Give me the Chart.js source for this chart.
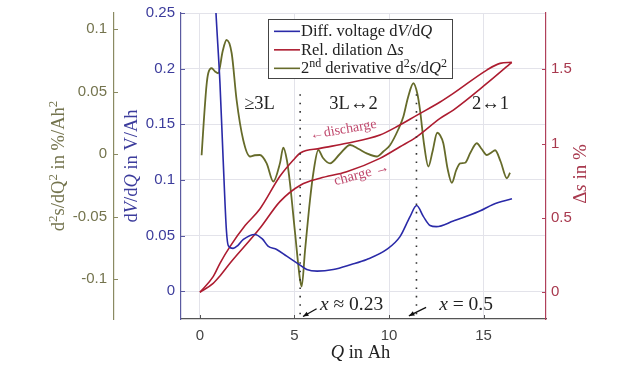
<!DOCTYPE html>
<html>
<head>
<meta charset="utf-8">
<script src="https://cdn.jsdelivr.net/npm/chart.js@4.4.1/dist/chart.umd.min.js"></script>
<style>
  body { margin: 0; background: #fff; }
  #wrap { width: 633px; height: 373px; }
</style>
</head>
<body>
<div id="wrap"><canvas id="chart"></canvas></div>
<script>
// Diff. voltage dV/dQ (V/Ah)
const qVolt = [0.6, 0.85, 1.06, 1.23, 1.4, 1.5, 1.75, 2.0, 2.3, 2.9, 3.3, 3.6, 4.06, 4.59, 5.12, 5.65, 6.2, 7.05, 8.0, 8.82, 9.88, 10.58, 11.11, 11.46, 11.82, 12.17, 12.5, 13.4, 14.8, 15.5, 16.5];
const dVdQ = [0.34, 0.25, 0.187, 0.118, 0.055, 0.041, 0.0385, 0.041, 0.0465, 0.051, 0.047, 0.0405, 0.0375, 0.0315, 0.0255, 0.0195, 0.018, 0.0195, 0.024, 0.0285, 0.0375, 0.049, 0.067, 0.077, 0.067, 0.059, 0.058, 0.063, 0.072, 0.078, 0.083];

// Rel. dilation, discharge branch (upper) and charge branch (lower), in %
const qDis = [0, 0.7, 1.06, 1.59, 2.4, 3.17, 4.23, 4.94, 5.33, 6.35, 7.76, 9.52, 10.5, 11.46, 12.7, 13.4, 15.17, 15.87, 16.49];
const dsDis = [0, 0.105, 0.195, 0.307, 0.45, 0.56, 0.78, 0.89, 0.939, 0.968, 1.002, 1.058, 1.12, 1.19, 1.28, 1.338, 1.495, 1.54, 1.547];
const qCha = [0, 0.7, 1.06, 1.59, 3.17, 4.23, 5.33, 6.35, 7.76, 9.52, 10.58, 11.46, 12.7, 13.4, 15.17, 16.49];
const dsCha = [0, 0.06, 0.11, 0.195, 0.43, 0.61, 0.722, 0.767, 0.811, 0.901, 0.979, 1.046, 1.17, 1.226, 1.405, 1.547];

// 2nd derivative d2s/dQ2 (%/Ah2)
const qDeriv = [0.09, 0.2, 0.35, 0.44, 0.62, 0.8, 0.97, 1.2, 1.41, 1.68, 1.94, 2.29, 2.65, 2.9, 3.17, 3.53, 3.88, 4.23, 4.41, 4.6, 4.76, 5.03, 5.29, 5.38, 5.56, 5.82, 6.0, 6.26, 6.5, 6.88, 7.4, 7.94, 8.4, 8.82, 9.35, 9.7, 10.05, 10.5, 10.76, 11.0, 11.29, 11.5, 11.64, 11.85, 12.08, 12.3, 12.55, 12.7, 12.87, 13.1, 13.32, 13.55, 13.76, 14.02, 14.3, 14.64, 14.9, 15.17, 15.4, 15.61, 15.9, 16.23, 16.4];
const d2s = [-0.001, 0.025, 0.055, 0.0646, 0.0686, 0.066, 0.0646, 0.082, 0.0912, 0.0806, 0.0432, 0.0112, -0.002, -0.001, -0.0008, -0.0075, -0.022, -0.0075, 0.005, -0.005, -0.023, -0.063, -0.1, -0.106, -0.077, -0.037, -0.015, 0.0032, -0.003, -0.0075, 0.0, 0.0072, 0.004, 0.0005, -0.002, 0.002, 0.007, 0.02, 0.03, 0.045, 0.0566, 0.048, 0.035, 0.008, -0.010, 0.002, 0.017, 0.015, 0.0086, -0.012, -0.023, -0.013, -0.0075, -0.007, 0.001, 0.0086, 0.004, -0.0008, 0.001, 0.003, -0.006, -0.0194, -0.015];

// tick labels
const xTicks = [0, 5, 10, 15];
const voltTicks = [0, 0.05, 0.1, 0.15, 0.2, 0.25];
const derivTicks = [-0.1, -0.05, 0, 0.05, 0.1];
const dilTicks = [0, 0.5, 1, 1.5];

// phase transitions (Q in Ah)
const phaseQ = [5.3, 11.45];

const BLUE = '#2a2aa8', BLUE_T = '#3c3c9c';
const RED = '#ad1c30', RED_T = '#a8394e';
const OLIVE = '#666b2a', OLIVE_T = '#74744e';
const SERIF = '"Liberation Serif", "DejaVu Serif", serif';
const SANS = '"Liberation Sans", Arial, sans-serif';

function toPoints(xs, ys) {
    return xs.map((x, i) => ({ x: x, y: ys[i] }));
}

function fmt(v) {
    return String(Math.round(v * 1000) / 1000);
}

// draws text made of pieces (italic / superscript) on one baseline
function drawRich(ctx, segs, x, y, size, align) {
    const fontFor = s => (s.i ? 'italic ' : '') + (s.sup ? Math.round(size * 0.7) : size) + 'px ' + SERIF;
    let total = 0;
    segs.forEach(s => {
        ctx.font = fontFor(s);
        s.w = ctx.measureText(s.t).width;
        total += s.w;
    });
    let cx = align === 'center' ? x - total / 2 : (align === 'right' ? x - total : x);
    ctx.textAlign = 'left';
    ctx.textBaseline = 'alphabetic';
    segs.forEach(s => {
        ctx.font = fontFor(s);
        ctx.fillText(s.t, cx, s.sup ? y - size * 0.4 : y);
        cx += s.w;
    });
}

function arrow(ctx, x1, y1, x2, y2) {
    const a = Math.atan2(y2 - y1, x2 - x1);
    ctx.beginPath();
    ctx.moveTo(x1, y1);
    ctx.lineTo(x2, y2);
    ctx.stroke();
    ctx.beginPath();
    ctx.moveTo(x2, y2);
    ctx.lineTo(x2 - 6 * Math.cos(a - 0.4), y2 - 6 * Math.sin(a - 0.4));
    ctx.lineTo(x2 - 6 * Math.cos(a + 0.4), y2 - 6 * Math.sin(a + 0.4));
    ctx.closePath();
    ctx.fill();
}

const legendItems = [
    { color: BLUE, segs: [{ t: 'Diff. voltage d' }, { t: 'V', i: 1 }, { t: '/d' }, { t: 'Q', i: 1 }] },
    { color: RED, segs: [{ t: 'Rel. dilation Δ' }, { t: 's', i: 1 }] },
    { color: OLIVE, segs: [{ t: '2' }, { t: 'nd', sup: 1 }, { t: ' derivative d' }, { t: '2', sup: 1 }, { t: 's', i: 1 }, { t: '/d' }, { t: 'Q', i: 1 }, { t: '2', sup: 1 }] }
];

// small inward tick marks, MATLAB style
function innerTicks(ctx, scale, values, color, dir) {
    ctx.strokeStyle = color;
    ctx.lineWidth = 1;
    values.forEach(v => {
        const p = Math.round(scale.getPixelForValue(v)) + 0.5;
        ctx.beginPath();
        if (scale.isHorizontal()) {
            ctx.moveTo(p, scale.top);
            ctx.lineTo(p, scale.top - 4);
        } else {
            const x0 = dir > 0 ? scale.right : scale.left;
            ctx.moveTo(x0, p);
            ctx.lineTo(x0 + 4 * dir, p);
        }
        ctx.stroke();
    });
}

// titles, annotations and the legend box
const decorations = {
    id: 'decorations',
    afterDatasetsDraw(chart) {
        const ctx = chart.ctx;
        const xs = chart.scales.x, ys = chart.scales.yVolt;
        const area = chart.chartArea;
        const px = q => xs.getPixelForValue(q);
        const py = v => ys.getPixelForValue(v);
        ctx.save();

        innerTicks(ctx, xs, xTicks, '#555', 0);
        innerTicks(ctx, ys, voltTicks, '#5a5aa0', 1);
        innerTicks(ctx, chart.scales.yDeriv, derivTicks, '#8a8a62', 1);
        innerTicks(ctx, chart.scales.yDil, dilTicks, '#b0405a', -1);

        // dotted phase lines
        ctx.strokeStyle = '#333';
        ctx.lineWidth = 1.6;
        ctx.setLineDash([1.6, 6.8]);
        phaseQ.forEach(q => {
            ctx.beginPath();
            ctx.moveTo(px(q), py(0.177));
            ctx.lineTo(px(q), area.bottom);
            ctx.stroke();
        });
        ctx.setLineDash([]);

        // phase labels
        ctx.fillStyle = '#222';
        drawRich(ctx, [{ t: '≥3L' }], px(3.15), py(0.164), 18.5, 'center');
        drawRich(ctx, [{ t: '3L↔2' }], px(8.12), py(0.164), 18.5, 'center');
        drawRich(ctx, [{ t: '2↔1' }], px(15.37), py(0.164), 18.5, 'center');

        // charge / discharge
        ctx.fillStyle = '#c04a6e';
        ctx.save();
        ctx.translate(px(7.58), py(0.145));
        ctx.rotate(-10 * Math.PI / 180);
        ctx.font = '14px ' + SERIF;
        ctx.textAlign = 'center';
        ctx.textBaseline = 'middle';
        ctx.fillText('←discharge', 0, 0);
        ctx.restore();
        ctx.save();
        ctx.translate(px(8.55), py(0.105));
        ctx.rotate(-15 * Math.PI / 180);
        ctx.font = '14.5px ' + SERIF;
        ctx.textAlign = 'center';
        ctx.textBaseline = 'middle';
        ctx.fillText('charge →', 0, 0);
        ctx.restore();

        // x labels at the bottom
        ctx.fillStyle = '#222';
        drawRich(ctx, [{ t: 'x', i: 1 }, { t: ' ≈ 0.23' }], px(6.35), py(-0.0165), 19.5, 'left');
        drawRich(ctx, [{ t: 'x', i: 1 }, { t: ' = 0.5' }], px(12.65), py(-0.0165), 19.5, 'left');
        ctx.strokeStyle = '#111';
        ctx.fillStyle = '#111';
        ctx.lineWidth = 1.3;
        arrow(ctx, px(6.17), py(-0.0158), px(5.45), py(-0.0228));
        arrow(ctx, px(11.96), py(-0.0146), px(11.05), py(-0.0222));

        // legend box
        const lx = px(3.6), rx = px(13.33), ty = py(0.2443), by = py(0.1915);
        ctx.fillStyle = '#fff';
        ctx.fillRect(lx, ty, rx - lx, by - ty);
        ctx.strokeStyle = '#444';
        ctx.lineWidth = 1;
        ctx.strokeRect(Math.round(lx) + 0.5, Math.round(ty) + 0.5, Math.round(rx - lx), Math.round(by - ty));
        legendItems.forEach((item, i) => {
            const y = ty + 12 + i * 18.5;
            ctx.strokeStyle = item.color;
            ctx.lineWidth = 1.6;
            ctx.beginPath();
            ctx.moveTo(lx + 6, y);
            ctx.lineTo(lx + 32, y);
            ctx.stroke();
            ctx.fillStyle = '#222';
            drawRich(ctx, item.segs, lx + 33, y + 5, 16.5, 'left');
        });

        // axis titles
        ctx.fillStyle = '#222';
        drawRich(ctx, [{ t: 'Q', i: 1 }, { t: ' in Ah' }], (area.left + area.right) / 2 - 3, 358, 18.5, 'center');

        const vmid = (area.top + area.bottom) / 2;
        ctx.save();
        ctx.translate(64, vmid);
        ctx.rotate(-Math.PI / 2);
        ctx.fillStyle = OLIVE_T;
        drawRich(ctx, [{ t: 'd' }, { t: '2', sup: 1 }, { t: 's/dQ' }, { t: '2', sup: 1 }, { t: ' in %/Ah' }, { t: '2', sup: 1 }], 0, 0, 18.5, 'center');
        ctx.restore();

        ctx.save();
        ctx.translate(137, vmid);
        ctx.rotate(-Math.PI / 2);
        ctx.fillStyle = BLUE_T;
        drawRich(ctx, [{ t: 'd' }, { t: 'V', i: 1 }, { t: '/d' }, { t: 'Q', i: 1 }, { t: ' in V/Ah' }], 0, 0, 18.5, 'center');
        ctx.restore();

        ctx.save();
        ctx.translate(586, vmid + 8);
        ctx.rotate(-Math.PI / 2);
        ctx.fillStyle = RED_T;
        drawRich(ctx, [{ t: 'Δ' }, { t: 's', i: 1 }, { t: ' in %' }], 0, 0, 19, 'center');
        ctx.restore();

        ctx.restore();
    }
};

function fixed(size) {
    return function(scale) {
        if (scale.isHorizontal()) {
            scale.height = size;
        } else {
            scale.width = size;
        }
        scale.paddingTop = 0;
        scale.paddingBottom = 0;
        scale.paddingLeft = 0;
        scale.paddingRight = 0;
    };
}

function setTicks(values) {
    return function(scale) {
        scale.ticks = values.map(v => ({ value: v }));
    };
}

const ctx = document.getElementById('chart').getContext('2d');
new Chart(ctx, {
    type: 'line',
    data: {
        datasets: [{
            label: 'Diff. voltage dV/dQ',
            data: toPoints(qVolt, dVdQ),
            yAxisID: 'yVolt',
            borderColor: BLUE,
            borderWidth: 1.6
        }, {
            label: 'Rel. dilation Δs (discharge)',
            data: toPoints(qDis, dsDis),
            yAxisID: 'yDil',
            borderColor: RED,
            borderWidth: 1.6
        }, {
            label: 'Rel. dilation Δs (charge)',
            data: toPoints(qCha, dsCha),
            yAxisID: 'yDil',
            borderColor: RED,
            borderWidth: 1.6
        }, {
            label: '2nd derivative d²s/dQ²',
            data: toPoints(qDeriv, d2s),
            yAxisID: 'yDeriv',
            borderColor: OLIVE,
            borderWidth: 1.8
        }]
    },
    options: {
        responsive: true,
        maintainAspectRatio: false,
        animation: false,
        layout: { padding: { top: 13, right: 27, bottom: 0, left: 0 } },
        elements: {
            point: { radius: 0 },
            line: { cubicInterpolationMode: 'monotone', fill: false }
        },
        plugins: {
            legend: { display: false },
            tooltip: { enabled: false }
        },
        scales: {
            x: {
                type: 'linear',
                position: 'bottom',
                min: -1,
                max: 18.3,
                afterBuildTicks: setTicks(xTicks),
                afterFit: fixed(54),
                ticks: { color: '#444', font: { family: SANS, size: 15 }, padding: 8, callback: fmt },
                grid: { color: '#e3e3ea', drawTicks: false },
                border: { color: '#555', width: 1.2 }
            },
            yVolt: {
                position: 'left',
                weight: 0,
                min: -0.025,
                max: 0.25,
                afterBuildTicks: setTicks(voltTicks),
                afterFit: fixed(67),
                ticks: { color: BLUE_T, font: { family: SANS, size: 15 }, padding: 6, callback: fmt },
                grid: { color: '#e3e3ea', drawTicks: false },
                border: { color: '#5a5aa0', width: 1.2 }
            },
            yDeriv: {
                position: 'left',
                weight: 1,
                min: -0.132,
                max: 0.1128,
                afterBuildTicks: setTicks(derivTicks),
                afterFit: fixed(114),
                ticks: { color: OLIVE_T, font: { family: SANS, size: 15 }, padding: 7, callback: fmt },
                grid: { drawOnChartArea: false, drawTicks: false },
                border: { color: '#8a8a62', width: 1.2 }
            },
            yDil: {
                position: 'right',
                min: -0.18,
                max: 1.879,
                afterBuildTicks: setTicks(dilTicks),
                afterFit: fixed(60),
                ticks: { color: RED_T, font: { family: SANS, size: 15 }, padding: 5, callback: fmt },
                grid: { drawOnChartArea: false, drawTicks: false },
                border: { color: '#b0405a', width: 1.2 }
            }
        }
    },
    plugins: [decorations]
});
</script>
</body>
</html>
